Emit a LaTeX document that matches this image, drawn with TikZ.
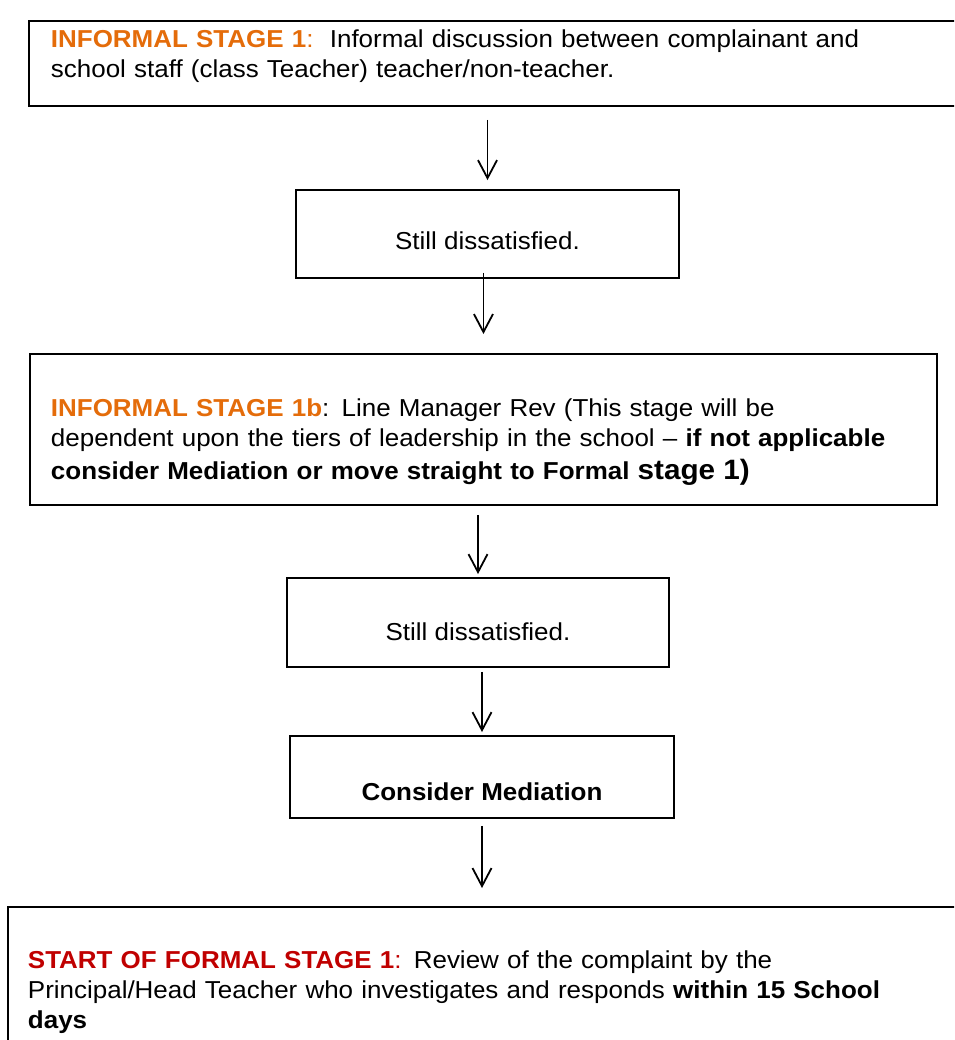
\documentclass[tikz,border=0pt]{standalone}
\usepackage{fontspec}
\setmainfont{Liberation Sans}[FakeStretch=1.06]
\usetikzlibrary{arrows.meta}
\definecolor{stageorange}{HTML}{E46C0A}
\definecolor{formalred}{HTML}{C00000}
\tikzset{stagebox/.style={draw,line width=1.9pt,anchor=north west,align=left,inner ysep=2pt,font=\fontsize{24.5}{30}\selectfont}}
\tikzset{smallbox/.style={draw,line width=1.9pt,align=center,inner ysep=2pt,text depth=0pt,font=\fontsize{24.5}{30}\selectfont}}
\tikzset{flow/.style={line width=1.8pt,-{Straight Barb[length=18pt,width=19pt]}}}

\begin{document}
\begin{tikzpicture}[x=1pt,y=-1pt]
		\useasboundingbox (0,0) rectangle (954,1040);
		\clip (0,0) rectangle (954,1040);

		\node[stagebox,text width=898pt,inner xsep=22pt,minimum height=85pt](inf1) at (28,20){\textcolor{stageorange}{\textbf{INFORMAL STAGE 1}:}\ \ Informal discussion between complainant and\\school staff (class Teacher) teacher/non-teacher.\rule[-20pt]{0pt}{20pt}};

		\node[smallbox,minimum width=383pt,minimum height=88pt,text height=32pt](still1) at (487.5,234){Still dissatisfied.};

		\node[stagebox,text width=865pt,inner xsep=21pt,minimum height=151pt](inf1b) at (29,353){\rule{0pt}{44pt}\textcolor{stageorange}{\textbf{INFORMAL STAGE 1b}}: Line Manager Rev (This stage will be\\dependent upon the tiers of leadership in the school -- \textbf{if not applicable}\\[3pt]\textbf{consider Mediation or move straight to Formal {\fontsize{28}{30}\selectfont stage 1)}}};

		\node[smallbox,minimum width=382pt,minimum height=89pt,text height=35pt](still2) at (478,622.5){Still dissatisfied.};

		\node[smallbox,minimum width=384pt,minimum height=82pt,text height=46pt,font=\fontsize{24.5}{30}\selectfont\bfseries](med) at (482,777){Consider Mediation};

		\node[stagebox,text width=930pt,inner xsep=20pt,minimum height=171pt](formal1) at (7,906){\textcolor{formalred}{\textbf{START OF FORMAL STAGE 1}:} Review of the complaint by the\\Principal/Head Teacher who investigates and responds \textbf{within 15 School}\\\textbf{days}};

		\draw[flow,shorten <=13pt,shorten >=9pt] (still1.north |- inf1.south) -- (still1.north);
		\draw[flow,shorten <=-6pt,shorten >=19pt] (inf1b.north |- still1.south) -- (inf1b.north);
		\draw[flow,shorten <=9pt,shorten >=3pt] (still2.north |- inf1b.south) -- (still2.north);
		\draw[flow,shorten <=4pt,shorten >=3pt] (med.north |- still2.south) -- (med.north);
		\draw[flow,shorten <=7pt,shorten >=18pt] (med.south) -- (med.south |- formal1.north);
	\end{tikzpicture}
\end{document}
